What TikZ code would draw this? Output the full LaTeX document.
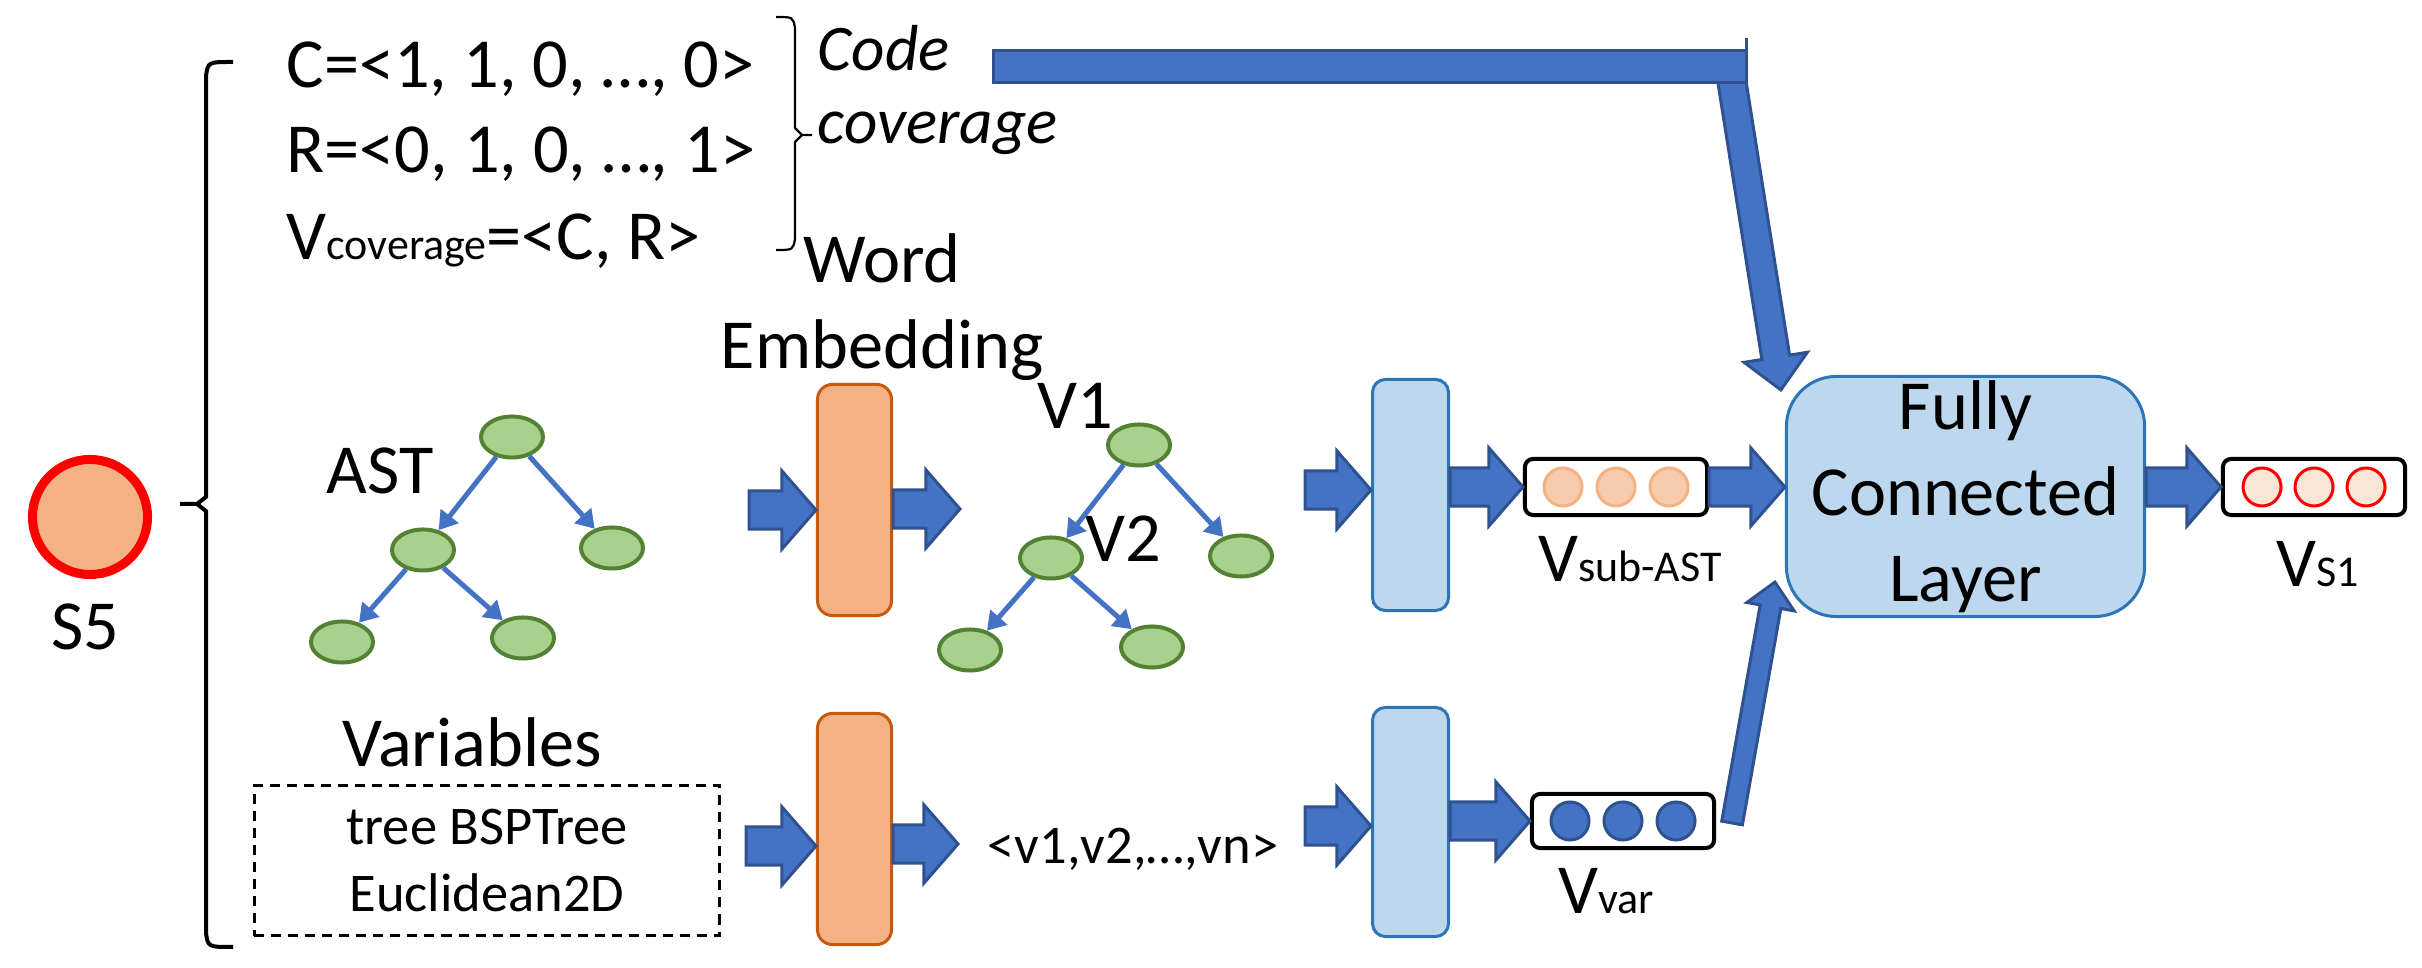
\documentclass[tikz,border=0pt]{standalone}
\usepackage{fontspec}
\setmainfont{Carlito}
\usepackage{tikz}
\usetikzlibrary{calc, shapes, arrows.meta, positioning}

\definecolor{nodeorange}{HTML}{F4B183}
\definecolor{embborder}{HTML}{C55A11}
\definecolor{leafgreen}{HTML}{A9D18E}
\definecolor{leafborder}{HTML}{548235}
\definecolor{flowblue}{HTML}{4472C4}
\definecolor{flowdark}{HTML}{2F528F}
\definecolor{layerblue}{HTML}{BDD7EE}
\definecolor{layerborder}{HTML}{2E75B6}
\definecolor{peach}{HTML}{F8CBAD}
\definecolor{palered}{HTML}{FBE5D6}

\tikzstyle{statement}=[draw=red, fill=nodeorange, circle, line width=0.09cm, minimum size=1.15cm, inner sep=0pt]
\tikzstyle{leaf}=[draw=leafborder, fill=leafgreen, ellipse, line width=0.04cm, minimum width=0.62cm, minimum height=0.41cm, inner sep=0pt]
\tikzstyle{treeEdge}=[draw=flowblue, line width=0.05cm, -{Triangle[length=0.18cm, width=0.22cm]}]
\tikzstyle{embedding}=[draw=embborder, fill=nodeorange, rectangle, rounded corners=0.15cm, line width=0.03cm, minimum width=0.74cm, minimum height=2.31cm, inner sep=0pt]
\tikzstyle{encoder}=[draw=layerborder, fill=layerblue, rectangle, rounded corners=0.13cm, line width=0.03cm, minimum width=0.76cm, minimum height=2.31cm, inner sep=0pt]
\tikzstyle{vector}=[draw=black, rectangle, rounded corners=0.08cm, line width=0.04cm, minimum width=1.82cm, minimum height=0.56cm, inner sep=0pt]
\tikzstyle{unitcell}=[circle, line width=0.03cm, minimum size=0.38cm, inner sep=0pt]
\tikzstyle{flow}=[fill=flowblue, draw=flowdark, line width=0.03cm, line join=miter]
\tikzstyle{bracket}=[line width=0.04cm, line join=round]
\tikzstyle{smalltext}=[font=\fontsize{15.5}{19.3}\selectfont]
\tikzstyle{notetext}=[font=\fontsize{18.5}{20.7}\selectfont\itshape]

\newcommand{\subtxt}[1]{{\fontsize{12.5}{14}\selectfont #1}}
% block arrow: start, tip, shaft half width, head half width, head length
\newcommand{\blockarrow}[5]{%
  \coordinate (ba) at ($(#2)!#5!(#1)$);
  \filldraw[flow] ($(#1)!#3!-90:(#2)$) -- ($(ba)!#3!90:(#1)$) -- ($(ba)!#4!90:(#1)$) -- (#2)
    -- ($(ba)!#4!-90:(#1)$) -- ($(ba)!#3!-90:(#1)$) -- ($(#1)!#3!90:(#2)$) -- cycle;
}
\newcommand{\flowarrow}[2]{\blockarrow{#1}{#2}{0.19cm}{0.39cm}{0.34cm}}

\begin{document}
\begin{tikzpicture}[x=0.01cm, y=-0.01cm, font=\fontsize{20}{24.5}\selectfont]
    \useasboundingbox (0,0) rectangle (2422,968);

    % statement
    \node (s5)[statement] at (90,517) {};
    \node[anchor=base] (s5name) at (85,650) {S5};
    \draw[bracket] (233,62) .. controls (208,62) .. (206,76) -- (206,497) -- (197,504) -- (206,511)
        -- (206,933) .. controls (208,947) .. (233,947) (180,504) -- (197,504);

    % code coverage
    \node[anchor=base west, inner sep=0pt] (cvec) at (286,88) {C=<1, 1, 0, …, 0>};
    \node[anchor=base west, inner sep=0pt] (rvec) at (286,173) {R=<0, 1, 0, …, 1>};
    \node[anchor=base west, inner sep=0pt] (vcov) at (286,260) {V\subtxt{coverage}=<C, R>};
    \draw[bracket, line width=0.022cm] (776,17) .. controls (793,17) .. (795,28) -- (795,128) -- (802,135) -- (795,142)
        -- (795,239) .. controls (793,250) .. (776,250) (802,135) -- (812,135);
    \node[notetext, align=left, anchor=west, inner sep=0pt] (cc) at (817,90) {Code\\coverage};
    \node[align=center, inner sep=0pt] (we) at (882,307) {Word\\Embedding};

    % AST
    \node (t1r)[leaf] at (512,437) {};
    \node (t1a)[leaf] at (423,550) {};
    \node (t1b)[leaf] at (612,548) {};
    \node (t1c)[leaf] at (342,642) {};
    \node (t1d)[leaf] at (523,638) {};
    \node[anchor=base] (ast) at (380,494) {AST};
    \draw[treeEdge] (t1r) -- (t1a);
    \draw[treeEdge] (t1r) -- (t1b);
    \draw[treeEdge] (t1a) -- (t1c);
    \draw[treeEdge] (t1a) -- (t1d);

    % variables
    \node[anchor=base] (varname) at (472,767) {Variables};
    \node (vars)[smalltext, draw, dash pattern=on 0.1cm off 0.07cm, line width=0.03cm, minimum width=4.65cm, minimum height=1.50cm, align=center] at (487,860.5) {tree BSPTree\\Euclidean2D};

    % word embedding
    \node (emb1)[embedding] at (854.5,500) {};
    \node (emb2)[embedding] at (854.5,829) {};

    % embedded AST
    \node (t2r)[leaf] at (1139,445) {};
    \node (t2a)[leaf] at (1051,558) {};
    \node (t2b)[leaf] at (1241,556) {};
    \node (t2c)[leaf] at (970,650) {};
    \node (t2d)[leaf] at (1152,647) {};
    \node[anchor=base] (v1) at (1075,429) {V1};
    \node[anchor=base] (v2) at (1123,562) {V2};
    \draw[treeEdge] (t2r) -- (t2a);
    \draw[treeEdge] (t2r) -- (t2b);
    \draw[treeEdge] (t2a) -- (t2c);
    \draw[treeEdge] (t2a) -- (t2d);

    \node[smalltext, anchor=base] (seq) at (1133,864) {<v1,v2,…,vn>};

    % encoders
    \node (lb1)[encoder] at (1410.5,495) {};
    \node (lb2)[encoder, minimum height=2.29cm] at (1410.5,822) {};

    % vectors
    \node (vsub)[vector] at (1616,487) {};
    \node (vsub1)[unitcell, draw=nodeorange, fill=peach] at (1563,487) {};
    \node (vsub2)[unitcell, draw=nodeorange, fill=peach] at (1616,487) {};
    \node (vsub3)[unitcell, draw=nodeorange, fill=peach] at (1669,487) {};
    \node[anchor=base] (vsubname) at (1630,582) {V\subtxt{sub-AST}};

    \node (vvar)[vector, minimum height=0.54cm] at (1623,821) {};
    \node (vvar1)[unitcell, draw=flowdark, fill=flowblue] at (1570,821) {};
    \node (vvar2)[unitcell, draw=flowdark, fill=flowblue] at (1623,821) {};
    \node (vvar3)[unitcell, draw=flowdark, fill=flowblue] at (1676,821) {};
    \node[anchor=base] (vvarname) at (1606,913) {V\subtxt{var}};

    \node (fc)[encoder, rounded corners=0.5cm, minimum width=3.58cm, minimum height=2.40cm, align=center] at (1965.5,496.5) {Fully\\Connected\\Layer};

    \node (vout)[vector] at (2314,487) {};
    \node (vout1)[unitcell, draw=red, fill=palered] at (2262,487) {};
    \node (vout2)[unitcell, draw=red, fill=palered] at (2314,487) {};
    \node (vout3)[unitcell, draw=red, fill=palered] at (2366,487) {};
    \node[anchor=base] (voutname) at (2318,587) {V\subtxt{S1}};

    % block arrows
    \coordinate (f1s) at (749,510);
    \coordinate (f1e) at (emb1.west |- f1s);
    \flowarrow{f1s}{f1e}
    \coordinate (f2e) at (960,509);
    \coordinate (f2s) at (emb1.east |- f2e);
    \flowarrow{f2s}{f2e}
    \coordinate (f3s) at (746,846);
    \coordinate (f3e) at (emb2.west |- f3s);
    \flowarrow{f3s}{f3e}
    \coordinate (f4e) at (958,844);
    \coordinate (f4s) at (emb2.east |- f4e);
    \flowarrow{f4s}{f4e}
    \coordinate (f5s) at (1305,490);
    \coordinate (f5e) at (lb1.west |- f5s);
    \flowarrow{f5s}{f5e}
    \coordinate (f6s) at (lb1.east |- vsub.west);
    \flowarrow{f6s}{vsub.west}
    \coordinate (f7s) at (1305,826);
    \coordinate (f7e) at (lb2.west |- f7s);
    \flowarrow{f7s}{f7e}
    \coordinate (f8s) at (lb2.east |- vvar.west);
    \flowarrow{f8s}{vvar.west}
    \coordinate (f9e) at (fc.west |- vsub.east);
    \flowarrow{vsub.east}{f9e}
    \coordinate (f10s) at (fc.east |- vout.west);
    \flowarrow{f10s}{vout.west}

    % coverage to fully connected layer
    \coordinate (cov1) at (1731,76);
    \coordinate (cov2) at ($(fc.north west)+(-4,15)$);
    \blockarrow{cov1}{cov2}{0.14cm}{0.32cm}{0.33cm}
    \filldraw[flow] (993,51) rectangle (1746,83);
    \draw[flowdark, line width=0.03cm] (1746,38) -- (1746,83);

    % variables to fully connected layer
    \coordinate (var1) at ($(vvar.east)+(16,2)$);
    \coordinate (var2) at ($(fc.south west)+(-10,-36)$);
    \blockarrow{var1}{var2}{0.105cm}{0.24cm}{0.25cm}

\end{tikzpicture}
\end{document}
